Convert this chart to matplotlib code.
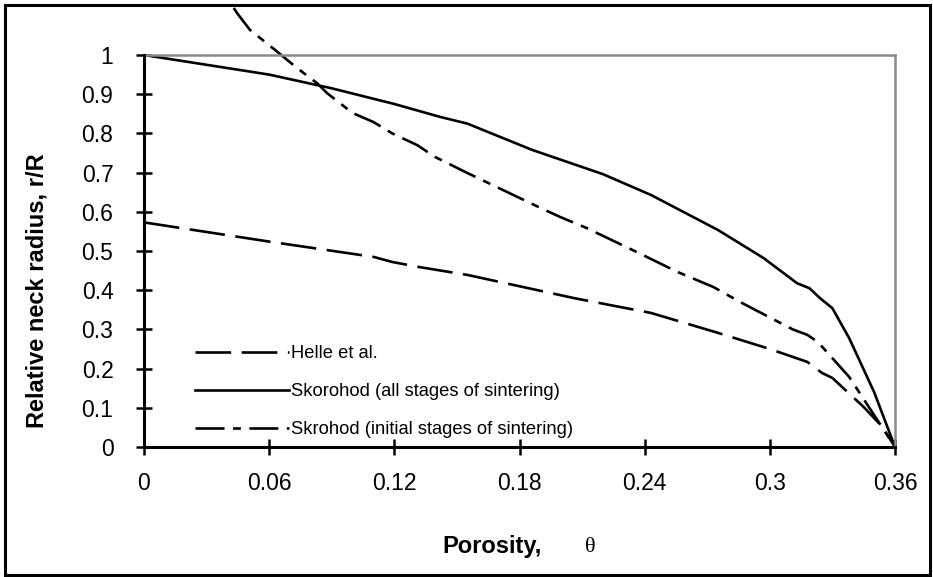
import matplotlib
matplotlib.use("Agg")
import matplotlib.pyplot as plt
from matplotlib.patches import Rectangle

# porosity / relative neck radius
theta_helle = [0, 0.06, 0.11, 0.119, 0.132, 0.155, 0.206, 0.243, 0.274, 0.3,
               0.318, 0.325, 0.33, 0.345, 0.354, 0.36]
r_helle = [0.573, 0.524, 0.485, 0.472, 0.459, 0.439, 0.380, 0.342, 0.293, 0.25,
           0.217, 0.189, 0.176, 0.102, 0.051, 0.0]

theta_all = [0, 0.03, 0.06, 0.09, 0.12, 0.142, 0.155, 0.186, 0.22, 0.243, 0.275,
             0.297, 0.313, 0.319, 0.324, 0.33, 0.338, 0.35, 0.36]
r_all = [1.0, 0.975, 0.95, 0.915, 0.875, 0.842, 0.825, 0.758, 0.696, 0.643, 0.554,
         0.482, 0.418, 0.405, 0.38, 0.354, 0.278, 0.14, 0.0]

theta_init = [0.043, 0.0446, 0.0508, 0.0628, 0.0733, 0.083, 0.0877, 0.100, 0.110,
              0.119, 0.131, 0.1395, 0.155, 0.19, 0.1994, 0.212, 0.234, 0.256,
              0.273, 0.2857, 0.311, 0.318, 0.323, 0.338, 0.36]
r_init = [1.12, 1.107, 1.064, 1.013, 0.967, 0.928, 0.903, 0.852, 0.829, 0.80,
          0.770, 0.740, 0.699, 0.610, 0.587, 0.559, 0.503, 0.446, 0.408, 0.370,
          0.30, 0.286, 0.268, 0.179, 0.0]

labels = ["Helle et al.",
          "Skorohod (all stages of sintering)",
          "Skrohod (initial stages of sintering)"]

x_ticks = [0, 0.06, 0.12, 0.18, 0.24, 0.3, 0.36]
x_ticklabels = ["0", "0.06", "0.12", "0.18", "0.24", "0.3", "0.36"]
y_ticks = [0, 0.1, 0.2, 0.3, 0.4, 0.5, 0.6, 0.7, 0.8, 0.9, 1]
y_ticklabels = ["0", "0.1", "0.2", "0.3", "0.4", "0.5", "0.6", "0.7", "0.8", "0.9", "1"]

plt.rcParams['font.family'] = ['Liberation Sans', 'DejaVu Sans']

W, H = 933, 577
fig = plt.figure(figsize=(W / 100, H / 100), dpi=100)
ax = fig.add_axes([144 / W, (H - 447) / H, 751 / W, 392 / H])

ax.plot(theta_helle, r_helle, color='black', lw=1.9, dashes=(13.5, 4),
        label=labels[0])
ax.plot(theta_all, r_all, color='black', lw=1.9, label=labels[1])
ax.plot(theta_init, r_init, color='black', lw=1.9, dashes=(11, 3.2, 3, 3.2),
        label=labels[2], clip_on=False)

ax.set_xlim(0, 0.36)
ax.set_ylim(0, 1)
ax.set_xticks(x_ticks)
ax.set_xticklabels(x_ticklabels)
ax.set_yticks(y_ticks)
ax.set_yticklabels(y_ticklabels)
ax.tick_params(direction='inout', length=12, width=1.8, labelsize=16.5,
               color='black')
ax.tick_params(axis='x', pad=12)
ax.tick_params(axis='y', pad=16)

for side in ['left', 'bottom']:
    ax.spines[side].set_color('black')
    ax.spines[side].set_linewidth(2.2)
    ax.spines[side].set_zorder(5)
for side in ['top', 'right']:
    ax.spines[side].set_color('#8a8a8a')
    ax.spines[side].set_linewidth(1.8)

leg = ax.legend(loc='upper left', bbox_to_anchor=(195 / W, (H - 345) / H),
                bbox_transform=fig.transFigure, frameon=False, fontsize=13.2,
                handlelength=5.1, handletextpad=0.12, labelspacing=1.15,
                borderpad=0, borderaxespad=0)

fig.text(37 / W, (H - 291) / H, "Relative neck radius, r/R", rotation=90,
         ha='center', va='center', fontsize=17, fontweight='bold')
fig.text(442 / W, (H - 547) / H, "Porosity,", ha='left', va='center',
         fontsize=17, fontweight='bold')
fig.text(590 / W, (H - 547) / H, "θ", ha='center', va='center', fontsize=16,
         family=['Liberation Serif', 'DejaVu Serif'])

fig.patches.append(Rectangle((5 / W, 2 / H), 925 / W, 570 / H, fill=False,
                             edgecolor='black', lw=2.2,
                             transform=fig.transFigure, figure=fig))

fig.savefig("out.png", dpi=100)
